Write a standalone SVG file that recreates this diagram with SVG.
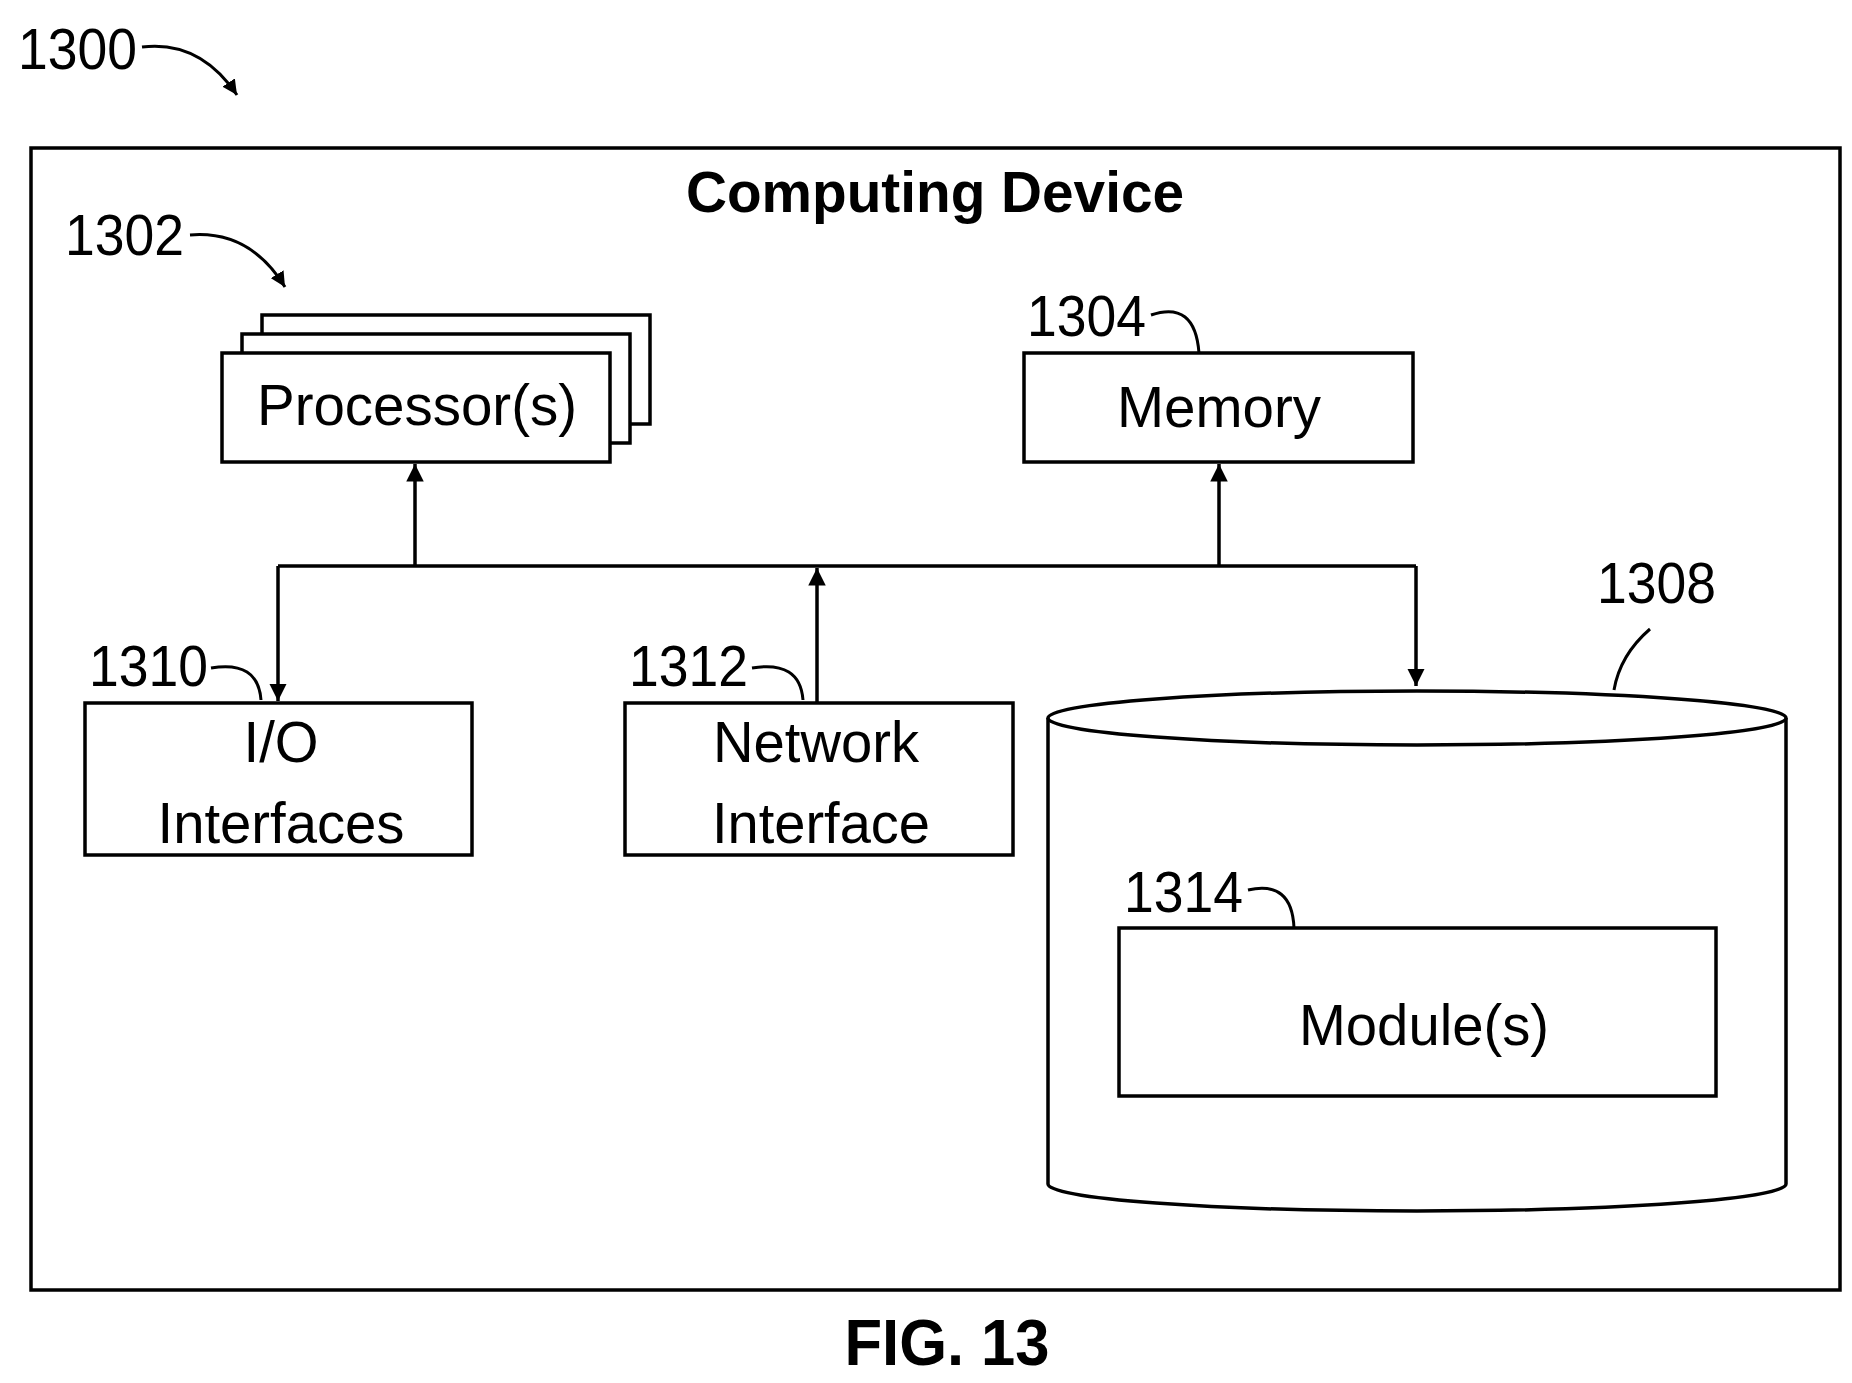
<svg xmlns="http://www.w3.org/2000/svg" width="1852" height="1383" viewBox="0 0 1852 1383">
<defs>
<marker id="ah" viewBox="0 0 10 10" refX="10" refY="5" markerWidth="5" markerHeight="5" orient="auto"><path d="M0,0 L10,5 L0,10 z" fill="#000"/></marker>
<style>
.b{fill:#fff;stroke:#000;stroke-width:3.5}
.t{font-family:"Liberation Sans",Arial,sans-serif;font-size:58px;fill:#000;text-anchor:middle}
.n{font-family:"Liberation Sans",Arial,sans-serif;font-size:58px;fill:#000}
.l{fill:none;stroke:#000;stroke-width:3}
.c{fill:none;stroke:#000;stroke-width:3.5}
</style>
</defs>
<rect width="1852" height="1383" fill="#fff"/>
<g id="device">
<rect class="b" x="31" y="148" width="1809" height="1142"/>
<text x="935" y="212" class="t" style="font-weight:bold" textLength="498" lengthAdjust="spacingAndGlyphs">Computing Device</text>
</g>
<g id="ref1300">
<text x="18" y="69" class="n" textLength="119" lengthAdjust="spacingAndGlyphs">1300</text>
<path class="l" d="M142,47 Q200,40 237,95" marker-end="url(#ah)"/>
</g>
<g id="processors">
<rect class="b" x="262" y="315" width="388" height="109"/>
<rect class="b" x="242" y="334" width="388" height="109"/>
<rect class="b" x="222" y="353" width="388" height="109"/>
<text x="417" y="425" class="t" textLength="320" lengthAdjust="spacingAndGlyphs">Processor(s)</text>
<text x="65" y="255" class="n" textLength="119" lengthAdjust="spacingAndGlyphs">1302</text>
<path class="l" d="M190,235 Q250,230 285,287" marker-end="url(#ah)"/>
</g>
<g id="memory">
<rect class="b" x="1024" y="353" width="389" height="109"/>
<text x="1219" y="427" class="t" textLength="204" lengthAdjust="spacingAndGlyphs">Memory</text>
<text x="1027" y="336" class="n" textLength="119" lengthAdjust="spacingAndGlyphs">1304</text>
<path class="l" d="M1151,315 Q1195,300 1199,353"/>
</g>
<g id="io">
<rect class="b" x="85" y="703" width="387" height="152"/>
<text x="281" y="762" class="t" textLength="75" lengthAdjust="spacingAndGlyphs">I/O</text>
<text x="281" y="843" class="t" textLength="247" lengthAdjust="spacingAndGlyphs">Interfaces</text>
<text x="89" y="686" class="n" textLength="119" lengthAdjust="spacingAndGlyphs">1310</text>
<path class="l" d="M211,668 Q258,660 261,700"/>
</g>
<g id="network">
<rect class="b" x="625" y="703" width="388" height="152"/>
<text x="816" y="762" class="t" textLength="206" lengthAdjust="spacingAndGlyphs">Network</text>
<text x="821" y="843" class="t" textLength="218" lengthAdjust="spacingAndGlyphs">Interface</text>
<text x="629" y="686" class="n" textLength="119" lengthAdjust="spacingAndGlyphs">1312</text>
<path class="l" d="M752,668 Q800,660 803,700"/>
</g>
<g id="storage">
<path class="b" d="M1048,718 L1048,1184 A369,27 0 0 0 1786,1184 L1786,718"/>
<ellipse class="b" cx="1417" cy="718" rx="369" ry="27"/>
<text x="1597" y="603" class="n" textLength="119" lengthAdjust="spacingAndGlyphs">1308</text>
<path class="l" d="M1650,629 Q1620,655 1614,690"/>
</g>
<g id="modules">
<rect class="b" x="1119" y="928" width="597" height="168"/>
<text x="1424" y="1045" class="t" textLength="250" lengthAdjust="spacingAndGlyphs">Module(s)</text>
<text x="1124" y="912" class="n" textLength="119" lengthAdjust="spacingAndGlyphs">1314</text>
<path class="l" d="M1248,890 Q1292,880 1294,928"/>
</g>
<g id="connectors">
<path class="c" d="M278,566 L1416,566"/>
<path class="c" d="M415,566 L415,464" marker-end="url(#ah)"/>
<path class="c" d="M1219,566 L1219,464" marker-end="url(#ah)"/>
<path class="c" d="M278,566 L278,701" marker-end="url(#ah)"/>
<path class="c" d="M817,703 L817,568" marker-end="url(#ah)"/>
<path class="c" d="M1416,566 L1416,686" marker-end="url(#ah)"/>
</g>
<text x="947" y="1365" class="t" style="font-weight:bold;font-size:64px" textLength="205" lengthAdjust="spacingAndGlyphs">FIG. 13</text>
</svg>
